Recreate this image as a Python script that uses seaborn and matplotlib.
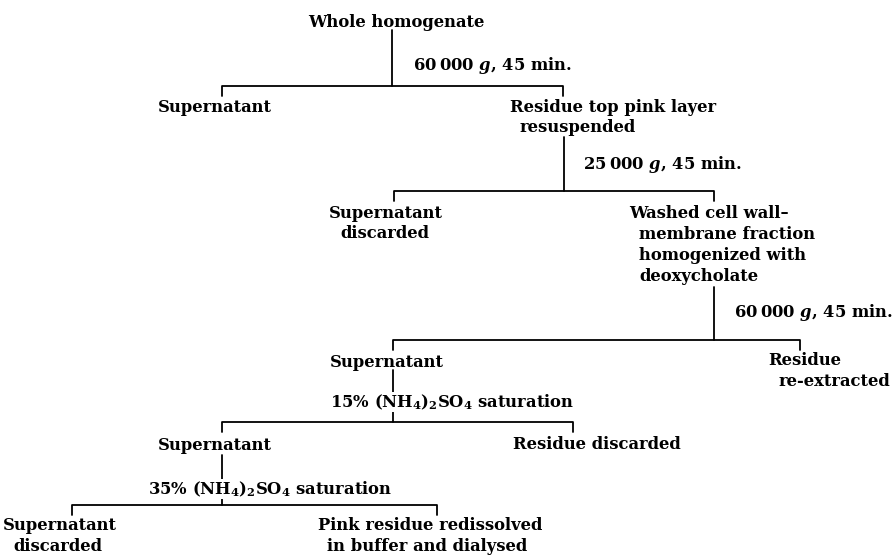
import matplotlib
matplotlib.use("Agg")
import matplotlib.pyplot as plt
import seaborn as sns
import pandas as pd

# ---- content -------------------------------------------------------------
node_lines = [
    "Whole homogenate",
    "Supernatant",
    "Residue top pink layer",
    "resuspended",
    "Supernatant",
    "discarded",
    "Washed cell wall\u2013",
    "membrane fraction",
    "homogenized with",
    "deoxycholate",
    "Supernatant",
    "Residue",
    "re-extracted",
    "Supernatant",
    "Residue discarded",
    "Supernatant",
    "discarded",
    "Pink residue redissolved",
    "in buffer and dialysed",
]
step_labels = [
    "60\u2009000 $g$, 45 min.",
    "25\u2009000 $g$, 45 min.",
    "60\u2009000 $g$, 45 min.",
    "15% (NH$_4$)$_2$SO$_4$ saturation",
    "35% (NH$_4$)$_2$SO$_4$ saturation",
]

# ---- layout (pixel coordinates, y downwards) -----------------------------
node_x = [308, 158, 510, 520, 329, 340, 629, 639, 639, 639, 330, 768, 779,
          158, 513, 3, 13, 318, 327]
node_base = [27, 112, 112, 132, 218, 238, 218, 239, 260, 281, 367, 365, 386,
             450, 449, 530, 551, 530, 551]

stem_x = [392, 564, 714, 393, 222]
stem_top = [30, 137, 287, 370, 455]
bar_y = [86, 191, 340, 422, 505]
bar_left = [222, 394, 393, 222, 72]
bar_right = [563, 714, 800, 573, 437]
step_x = [413, 583, 734, 330, 148]
step_base = [70, 169, 317, 407, 494]
tick = 10

sns.set_theme(style="white")
plt.rcParams["font.family"] = ["DejaVu Serif"]
plt.rcParams["font.weight"] = "bold"
plt.rcParams["mathtext.fontset"] = "custom"
plt.rcParams["mathtext.rm"] = "DejaVu Serif:bold"
plt.rcParams["mathtext.it"] = "DejaVu Serif:italic:bold"
plt.rcParams["mathtext.bf"] = "DejaVu Serif:bold"

fig = plt.figure(figsize=(8.95, 5.57), dpi=100)
ax = fig.add_axes([0, 0, 1, 1])

rows = []
seg = 0
for sx, st, by, bl, br in zip(stem_x, stem_top, bar_y, bar_left, bar_right):
    rows += [dict(seg=seg, x=sx, y=st), dict(seg=seg, x=sx, y=by)]
    seg += 1
    rows += [dict(seg=seg, x=bl, y=by + tick), dict(seg=seg, x=bl, y=by),
             dict(seg=seg, x=br, y=by), dict(seg=seg, x=br, y=by + tick)]
    seg += 1
df = pd.DataFrame(rows)
sns.lineplot(data=df, x="x", y="y", units="seg", estimator=None, sort=False,
             color="black", linewidth=1.3, ax=ax, legend=False)

fs = 11.8
for t, x, y in zip(node_lines, node_x, node_base):
    ax.text(x, y, t, ha="left", va="baseline", fontsize=fs, color="black",
            fontweight="bold")
for t, x, y in zip(step_labels, step_x, step_base):
    ax.text(x, y, t, ha="left", va="baseline", fontsize=fs, color="black",
            fontweight="bold",
            bbox=dict(facecolor="white", edgecolor="none", pad=0.5))

ax.set_xlim(0, 895)
ax.set_ylim(557, 0)
ax.axis("off")
fig.savefig("out.png", dpi=100, facecolor="white")
